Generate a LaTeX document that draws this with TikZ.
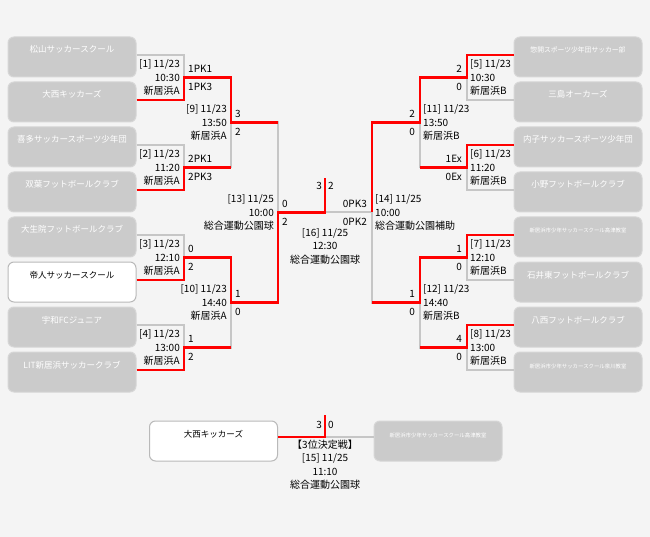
\documentclass[tikz,border=0pt]{standalone}
\usepackage{fontspec}
\setmainfont{Noto Sans CJK JP}
\definecolor{bggray}{HTML}{F4F4F4}
\definecolor{boxgray}{HTML}{CBCBCB}
\definecolor{boxedge}{HTML}{D6D6D6}
\definecolor{linegray}{HTML}{C6C6C6}
\definecolor{winred}{HTML}{FF0000}
\tikzset{
  team/.style={rectangle, rounded corners=6pt, minimum width=128pt, minimum height=40pt,
    inner xsep=1pt, inner ysep=0pt, text height=16pt, text depth=24pt,
    font=\fontsize{8.5}{10}\selectfont, fill=boxgray, draw=boxedge, line width=1pt, text=white},
  midteam/.style={team, font=\fontsize{6.8}{8}\selectfont},
  tinyteam/.style={team, font=\fontsize{5.4}{7}\selectfont},
  champ/.style={team, fill=white, draw=gray!55, text=black},
  info/.style={font=\fontsize{10}{13.5}\selectfont, inner sep=0pt},
  score/.style={font=\fontsize{10}{12}\selectfont, inner sep=0pt},
  lose/.style={draw=linegray, line width=2pt},
  win/.style={draw=winred, line width=2.6pt},
}
\begin{document}
\begin{tikzpicture}[x=1pt, y=-1pt]
    \fill[bggray] (0,0) rectangle (650,537);
    \useasboundingbox (0,0) rectangle (650,537);

    % teams
    \foreach \name/\sty [count=\i] in {松山サッカースクール/team, 大西キッカーズ/team,
        喜多サッカースポーツ少年団/team, 双葉フットボールクラブ/team, 大生院フットボールクラブ/team,
        帝人サッカースクール/champ, 宇和FCジュニア/team, LIT新居浜サッカークラブ/team}
        \node[style=\sty] (l\i) at (72, 12+45*\i) {\name};
    \foreach \name/\sty [count=\i] in {惣開スポーツ少年団サッカー部/midteam, 三島オーカーズ/team,
        内子サッカースポーツ少年団/team, 小野フットボールクラブ/team,
        新居浜市少年サッカースクール高津教室/tinyteam, 石井東フットボールクラブ/team,
        八西フットボールクラブ/team, 新居浜市少年サッカースクール泉川教室/tinyteam}
        \node[style=\sty] (r\i) at (578, 12+45*\i) {\name};
    \node[champ] (t1) at (213.5,441) {大西キッカーズ};
    \node[tinyteam] (t2) at (438,441) {新居浜市少年サッカースクール高津教室};

    % matches, left half
    \foreach \n/\v/\my/\txt/\sa/\sb in {
        1/184/77.5/{[1] 11/23\\10:30\\新居浜A}/1PK1/1PK3,
        2/184/167.5/{[2] 11/23\\11:20\\新居浜A}/2PK1/2PK3,
        3/184/257.5/{[3] 11/23\\12:10\\新居浜A}/0/2,
        4/184/347.5/{[4] 11/23\\13:00\\新居浜A}/1/2,
        9/231/122.5/{[9] 11/23\\13:50\\新居浜A}/3/2,
        10/231/302.5/{[10] 11/23\\14:40\\新居浜A}/1/0,
        13/278/212.5/{[13] 11/25\\10:00\\総合運動公園球}/0/2}
    {
        \coordinate (m\n) at (\v,\my);
        \node[info, align=right, anchor=east] (i\n) at ([xshift=-4pt]m\n) {\txt};
        \node[score, anchor=west] (a\n) at ([xshift=4pt, yshift=9pt]m\n) {\sa};
        \node[score, anchor=west] (b\n) at ([xshift=4pt, yshift=-9pt]m\n) {\sb};
    }
    % matches, right half
    \foreach \n/\v/\my/\txt/\sa/\sb in {
        5/467/77.5/{[5] 11/23\\10:30\\新居浜B}/2/0,
        6/467/167.5/{[6] 11/23\\11:20\\新居浜B}/1Ex/0Ex,
        7/467/257.5/{[7] 11/23\\12:10\\新居浜B}/1/0,
        8/467/347.5/{[8] 11/23\\13:00\\新居浜B}/4/0,
        11/420/122.5/{[11] 11/23\\13:50\\新居浜B}/2/0,
        12/420/302.5/{[12] 11/23\\14:40\\新居浜B}/1/0,
        14/372/212.5/{[14] 11/25\\10:00\\総合運動公園補助}/0PK3/0PK2}
    {
        \coordinate (m\n) at (\v,\my);
        \node[info, align=left, anchor=west] (i\n) at ([xshift=3pt]m\n) {\txt};
        \node[score, anchor=east] (a\n) at ([xshift=-5pt, yshift=9pt]m\n) {\sa};
        \node[score, anchor=east] (b\n) at ([xshift=-5pt, yshift=-9pt]m\n) {\sb};
    }

    % final and 3rd place
    \coordinate (m16) at (325,212.5);
    \coordinate (f16) at (325,178);
    \node[info, align=center] (i16) at (325,246) {[16] 11/25\\12:30\\総合運動公園球};
    \node[score, anchor=east] (a16) at (322,186) {3};
    \node[score, anchor=west] (b16) at (328,186) {2};
    \coordinate (m15) at (325,437);
    \coordinate (f15) at (325,415);
    \node[info, align=center] (i15) at (325,464.5) {【3位決定戦】\\{}[15] 11/25\\11:10\\総合運動公園球};
    \node[score, anchor=east] (a15) at (322,425) {3};
    \node[score, anchor=west] (b15) at (328,425) {0};

    % bracket
    \foreach \t/\m in {l1/m1, l2/m1, l3/m2, l4/m2, l5/m3, l6/m3, l7/m4, l8/m4}
        \draw[lose] ([yshift=2pt]\t.east) -| (\m);
    \foreach \t/\m in {r1/m5, r2/m5, r3/m6, r4/m6, r5/m7, r6/m7, r7/m8, r8/m8}
        \draw[lose] ([yshift=2pt]\t.west) -| (\m);
    \foreach \a/\b in {m1/m9, m2/m9, m3/m10, m4/m10, m9/m13, m10/m13,
        m5/m11, m6/m11, m7/m12, m8/m12, m11/m14, m12/m14}
        \draw[lose] (\a) -| (\b);
    \draw[lose] (m13) -- (m14);
    \draw[lose] (m15) -- ([yshift=4pt]t2.west);

    % winners
    \draw[win] ([yshift=2pt]l2.east) -| (m1) -| (m9) -- (m9 -| m13);
    \draw[win] ([yshift=2pt]l4.east) -| (m2) -- (m2 -| m9);
    \draw[win] ([yshift=2pt]l6.east) -| (m3) -| (m10) -| (m13) -| (f16);
    \draw[win] ([yshift=2pt]l8.east) -| (m4) -- (m4 -| m10);
    \draw[win] ([yshift=2pt]r1.west) -| (m5) -| (m11) -| (m14);
    \draw[win] ([yshift=2pt]r3.west) -| (m6) -- (m6 -| m11);
    \draw[win] ([yshift=2pt]r5.west) -| (m7) -| (m12) -- (m12 -| m14);
    \draw[win] ([yshift=2pt]r7.west) -| (m8) -- (m8 -| m12);
    \draw[win] ([yshift=4pt]t1.east) -| (f15);
\end{tikzpicture}
\end{document}
